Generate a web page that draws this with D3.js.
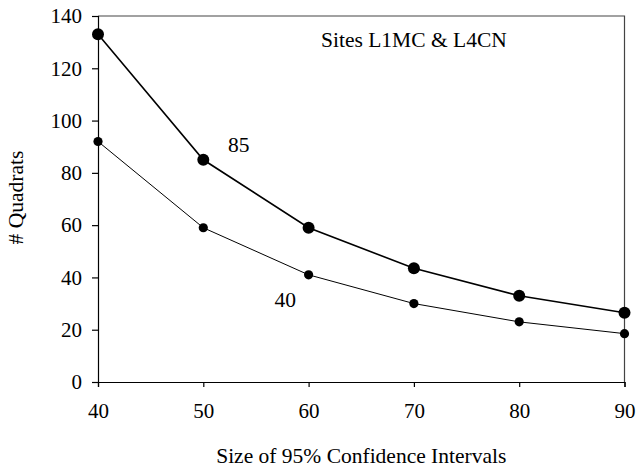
<!DOCTYPE html>
<html>
<head>
<meta charset="utf-8">
<script src="https://cdn.jsdelivr.net/npm/d3@7"></script>
<style>
  html, body { margin: 0; padding: 0; background: #fff; }
  svg text { font-family: "Liberation Serif", "Times New Roman", serif; fill: #000; }
</style>
</head>
<body>
<svg id="chart" width="639" height="472"></svg>
<script>
// Confidence interval sizes (x) and number of quadrats required (y)
const intervalSizes = [40, 50, 60, 70, 80, 90];
const quadrats85 = [133, 85, 59, 43.5, 33, 26.5];
const quadrats40 = [92, 59, 41, 30, 23, 18.5];
const xTicks = [40, 50, 60, 70, 80, 90];
const yTicks = [0, 20, 40, 60, 80, 100, 120, 140];

const svg = d3.select("#chart");
const margin = { left: 98, right: 14.5, top: 16, bottom: 90 };
const W = 639, H = 472;

const x = d3.scaleLinear().domain([40, 90]).range([margin.left, W - margin.right]);
const y = d3.scaleLinear().domain([0, 140]).range([H - margin.bottom, margin.top]);

// frame: top and right edges
svg.append("path")
  .attr("d", `M${x(40)},${y(140)}H${x(90)}V${y(0)}`)
  .attr("fill", "none").attr("stroke", "#444").attr("stroke-width", 1.2);

const tickFont = "21px";
const labelFont = "21.5px";

const xAxis = svg.append("g")
  .attr("transform", `translate(0,${y(0)})`)
  .call(d3.axisBottom(x).tickValues(xTicks).tickSize(5).tickFormat(d3.format("d")));
xAxis.selectAll(".tick text").attr("y", 36).attr("dy", 0);

const yAxis = svg.append("g")
  .attr("transform", `translate(${x(40)},0)`)
  .call(d3.axisLeft(y).tickValues(yTicks).tickSize(6).tickPadding(10).tickFormat(d3.format("d")));

[xAxis, yAxis].forEach(g => {
  g.select(".domain").attr("stroke", "#000").attr("stroke-width", 1.2);
  g.selectAll(".tick line").attr("stroke", "#000").attr("stroke-width", 1.2);
  g.selectAll(".tick text")
    .style("font-family", "'Liberation Serif', 'Times New Roman', serif")
    .style("font-size", tickFont).attr("fill", "#000");
});

const line = d3.line().x((d, i) => x(intervalSizes[i])).y(d => y(d));

// 85 series: heavier line, larger markers
svg.append("path").datum(quadrats85)
  .attr("d", line).attr("fill", "none").attr("stroke", "#000").attr("stroke-width", 1.6);
svg.append("g").selectAll("circle").data(quadrats85).join("circle")
  .attr("cx", (d, i) => x(intervalSizes[i])).attr("cy", d => y(d)).attr("r", 6).attr("fill", "#000");

// 40 series: thinner line, smaller markers
svg.append("path").datum(quadrats40)
  .attr("d", line).attr("fill", "none").attr("stroke", "#000").attr("stroke-width", 1);
svg.append("g").selectAll("circle").data(quadrats40).join("circle")
  .attr("cx", (d, i) => x(intervalSizes[i])).attr("cy", d => y(d)).attr("r", 4.6).attr("fill", "#000");

// series labels
svg.append("text").attr("x", x(52.35)).attr("y", y(88)).style("font-size", labelFont).text("85");
svg.append("text").attr("x", x(56.75)).attr("y", y(28.5)).style("font-size", labelFont).text("40");

// site annotation
svg.append("text").attr("x", x(70)).attr("y", y(128.2)).attr("text-anchor", "middle")
  .style("font-size", labelFont).text("Sites L1MC & L4CN");

// axis titles
svg.append("text").attr("x", (x(40) + x(90)) / 2).attr("y", 463).attr("text-anchor", "middle")
  .style("font-size", labelFont).text("Size of 95% Confidence Intervals");
svg.append("text").attr("transform", `translate(23,197.5) rotate(-90)`).attr("text-anchor", "middle")
  .style("font-size", labelFont).text("# Quadrats");
</script>
</body>
</html>
